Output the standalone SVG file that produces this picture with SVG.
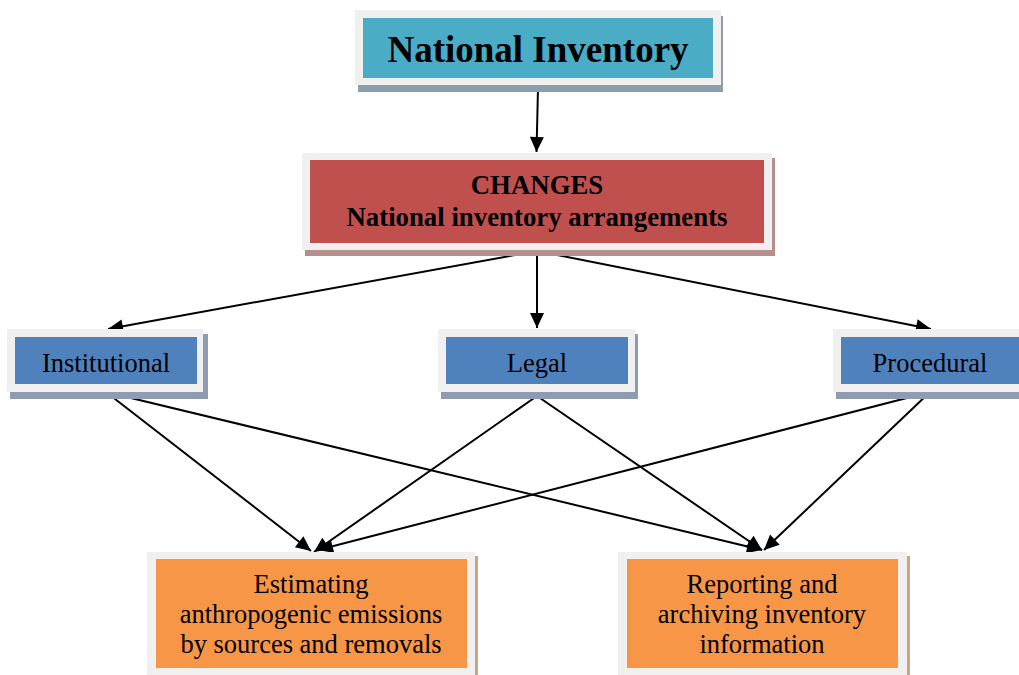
<svg xmlns="http://www.w3.org/2000/svg" width="1019" height="675" viewBox="0 0 1019 675">
<style>
.frame{fill:#f0f0f0}
.t{font-family:"Liberation Serif","Times New Roman",serif;fill:#000;text-anchor:middle}
.b{font-weight:bold}
.m{font-size:26.5px}
.c line{stroke:#000;stroke-width:2;marker-end:url(#ah)}
</style>
<defs>
<marker id="ah" markerUnits="userSpaceOnUse" markerWidth="20" markerHeight="20" refX="0" refY="0" orient="auto" style="overflow:visible">
<path d="M-15,-7 L0,0 L-15,7 Z" fill="#000"/>
</marker>
</defs>
<rect width="1019" height="675" fill="#fff"/>
<g class="c">
<line x1="538" y1="88" x2="536.5" y2="152"/>
<line x1="537" y1="251" x2="108" y2="329"/>
<line x1="537" y1="251" x2="537" y2="328"/>
<line x1="537" y1="251" x2="931" y2="329"/>
<line x1="106" y1="392" x2="311" y2="551"/>
<line x1="106" y1="392" x2="762" y2="550"/>
<line x1="537" y1="396" x2="314" y2="552"/>
<line x1="537" y1="396" x2="762" y2="550"/>
<line x1="930" y1="392" x2="318" y2="550"/>
<line x1="930" y1="392" x2="764" y2="550"/>
</g>
<g id="national-inventory">
<rect x="358" y="16" width="365" height="76" fill="#8c9eaa"/>
<rect x="355" y="10" width="366" height="75" class="frame"/>
<rect x="363" y="18" width="350" height="60" fill="#4bacc6"/>
<text x="538" y="62" class="t b" font-size="37">National Inventory</text>
</g>
<g id="changes">
<rect x="305" y="158" width="470" height="98" fill="#b68e8e"/>
<rect x="302" y="153" width="470" height="97" class="frame"/>
<rect x="310" y="160" width="454" height="83" fill="#c0504d"/>
<text x="537" y="194" class="t b" font-size="26.8">CHANGES</text>
<text x="537" y="226" class="t b" font-size="26.8">National inventory arrangements</text>
</g>
<g id="institutional">
<rect x="10" y="334" width="198" height="65" fill="#8e9bb0"/>
<rect x="7" y="329" width="196" height="63" class="frame"/>
<rect x="15" y="337" width="182" height="47" fill="#4f81bd"/>
<text x="106" y="372" class="t m">Institutional</text>
</g>
<g id="legal">
<rect x="441" y="334" width="197" height="65" fill="#8e9bb0"/>
<rect x="438" y="329" width="197" height="63" class="frame"/>
<rect x="446" y="337" width="182" height="47" fill="#4f81bd"/>
<text x="537" y="372" class="t m">Legal</text>
</g>
<g id="procedural">
<rect x="836" y="334" width="190" height="65" fill="#8e9bb0"/>
<rect x="833" y="329" width="190" height="63" class="frame"/>
<rect x="841" y="337" width="182" height="47" fill="#4f81bd"/>
<text x="930" y="372" class="t m">Procedural</text>
</g>
<g id="estimating">
<rect x="150" y="556" width="328" height="125" fill="#c9a584"/>
<rect x="147" y="552" width="328" height="125" class="frame"/>
<rect x="156" y="559" width="311" height="109" fill="#f79646"/>
<text x="311" y="593" class="t m">Estimating</text>
<text x="311" y="623" class="t m">anthropogenic emissions</text>
<text x="311" y="653" class="t m">by sources and removals</text>
</g>
<g id="reporting">
<rect x="621" y="556" width="289" height="125" fill="#c9a584"/>
<rect x="618" y="552" width="289" height="125" class="frame"/>
<rect x="627" y="559" width="271" height="109" fill="#f79646"/>
<text x="762" y="593" class="t m">Reporting and</text>
<text x="762" y="623" class="t m">archiving inventory</text>
<text x="762" y="653" class="t m">information</text>
</g>
</svg>
